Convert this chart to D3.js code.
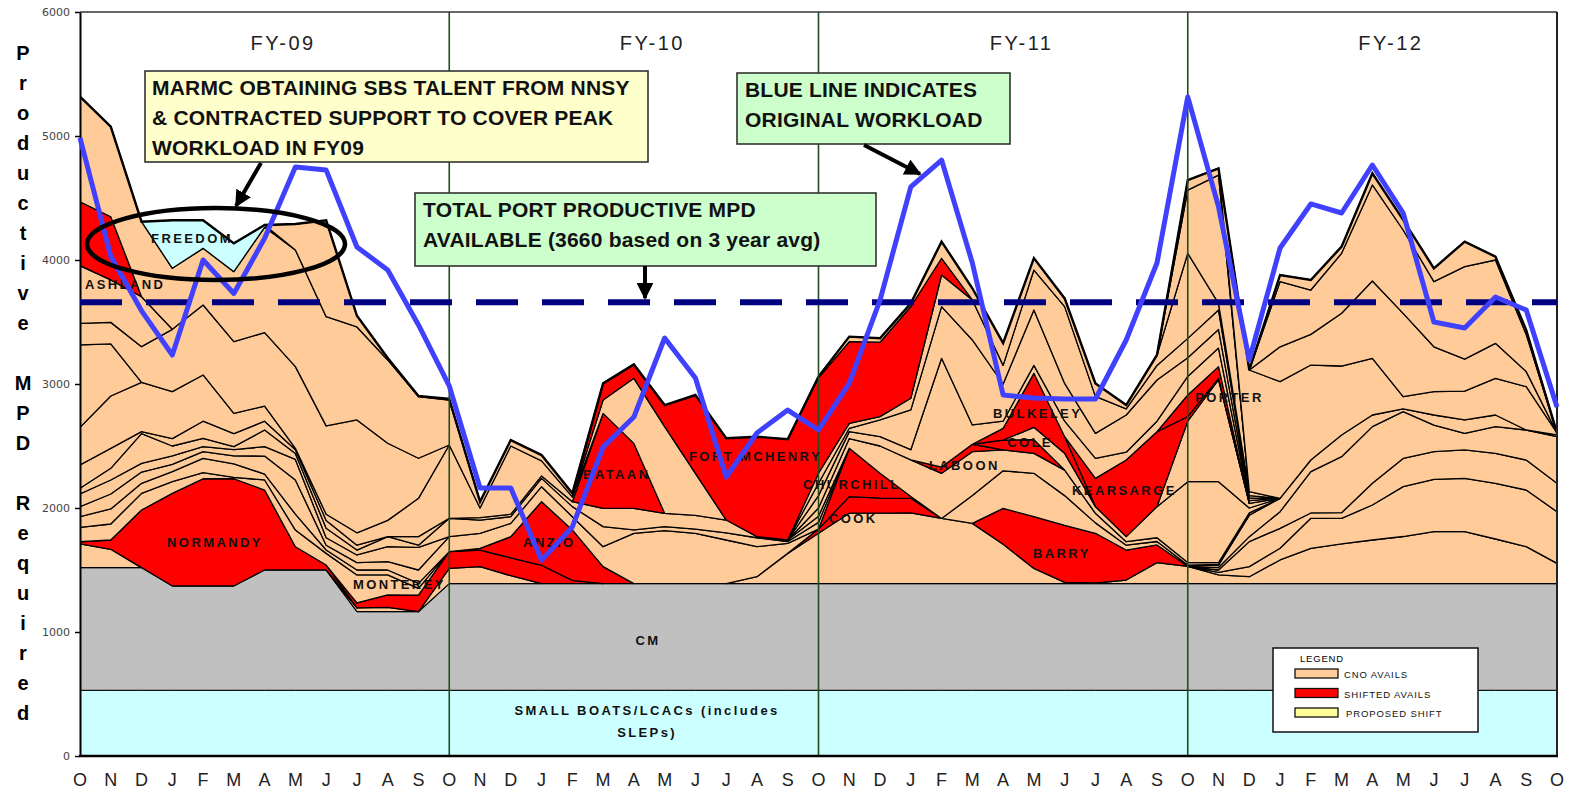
<!DOCTYPE html>
<html>
<head>
<meta charset="utf-8">
<script src="https://cdn.jsdelivr.net/npm/d3@7"></script>
<style>
  html, body { margin: 0; padding: 0; background: #fff; }
  svg { display: block; }
</style>
</head>
<body>
<div id="chart"></div>
<script>
// months on the x axis, Oct 08 .. Oct 12
const months = ["O","N","D","J","F","M","A","M","J","J","A","S",
                "O","N","D","J","F","M","A","M","J","J","A","S",
                "O","N","D","J","F","M","A","M","J","J","A","S",
                "O","N","D","J","F","M","A","M","J","J","A","S","O"];
const fiscalYears = ["FY-09","FY-10","FY-11","FY-12"];
const yTicks = [0,1000,2000,3000,4000,5000,6000];
const portAvailable = 3660;

// blue line: original workload
const originalWorkload = [4984,4030,3590,3234,4000,3730,4175,4750,4725,4105,3919,3476,2985,
                          2161,2161,1580,1847,2492,2734,3371,3048,2250,2605,2790,2629,
                          3008,3677,4589,4806,3976,2911,2887,2879,2879,3355,3976,5315,
                          4430,3194,4097,4452,4379,4766,4379,3500,3452,3702,3597,2815];

// base layers
const smallBoats = [530,530,530,530,530,530,530,530,530,530,530,530,530,530,530,530,530,
                    530,530,530,530,530,530,530,530,530,530,530,530,530,530,530,530,530,
                    530,530,530,530,530,530,530,530,530,530,530,530,530,530,530];
const cm = [989,989,989,841,841,841,970,970,970,634,634,634,
            860,860,860,860,860,860,860,860,860,860,860,860,860,860,860,860,860,860,
            860,860,860,860,860,860,860,860,860,860,860,860,860,860,860,860,860,860,860];

// availabilities (MPD per month), each starts at the month given in the layer table
const p09a = [191,148,0];
const p0 = [0,123,137,64,0];
const p09c = [0,30,35,0];
const normandy = [18,75,465,747,865,865,645,188,40,0];
const monterey = [0,40,100,134,135,134,143,148,27,0];
const anzio = [0,14,172,513,406,137,0];
const p1 = [0,56,244,406,568,568,570,526,486,317,123,10,5,29,170,140,70,56,191,285,320,352,380,419,419,360,298,164];
const barry = [0,290,417,460,401,242,142,0];
const cook = [0,34,134,122,118,0];
const churchill = [0,390,200,14,0];
const g1 = [0,20,81,94,242,207,282,402,422,430,449,457,416];
const g2 = [0,20,202,161,43,45,175,228,223,229,242,242,229];
const g3 = [0,20,40,134,333,452,457,377,215,134,215,242,376];
const g4 = [0,20,174,108,94,175,94,23,81,108,94,0,15];
const l1 = [116,129,134,94,49,11,81,134,94,226,161,54,0];
const l2 = [86,121,81,81,115,108,48,128,27,40,40,40,0];
const l3 = [81,121,91,59,54,65,145,276,39,60,67,108,121,121,107,121,107,161,406,427,406,352,242,81,0];
const l4 = [102,113,70,68,41,50,76,166,60,61,121,183,0];
const l5 = [46,94,240,80,67,25,134,48,76,40,81,17,148,107,54,67,81,162,27,33,34,58,72,15,54,0];
const l6 = [188,161,16,60,138,105,71,30,64,39,0,69,0,20,20,20,40,147,174,107,110,103,9,12,50,0];
const bataan = [0,766,524,0];
const l7 = [303,422,397,378,373,163,122,11,50,100,131,309,591,77,550,121,39,0];
const lb = [665,420,0];
const la = [174,174,288,503,564,579,592,659,712,910,622,323,0];
const wedge = [0,108,525,699,340,0];
const ld = [465,342,403,0];
const ashland = [516,510,0];
const k0 = [0,224,303,350,240,84,39,28,10,5,0];
const k1 = [0,66,78,220,296,364,354,168,161,206,77,28,30,20,15,17,0];
const laboon = [0,50,60,0];
const cole = [0,80,110,0];
const k2 = [0,100,135,54,41,251,652,652,40,0];
const bulkeley = [0,94,435,134,0];
const k2b = [0,488,824,38,0];
const kearsarge = [0,228,618,604,37,10,0];
const porter = [0,174,94,0];
const k3a = [0,100,56,76,82,877,156,58,64,125,161,63,85,150,150,22,0];
const k3b = [0,100,27,134,321,417,685,300,447,305,202,300,332,150,150,20,0];
const k3c = [0,80,40,27,94,255,323,150,322,619,298,50,118,157,157,20,0];
const fortMchenry = [0,134,112,174,631,659,806,812,770,659,600,740,135,0];
const p09top = [847,726,605,492,457,564,850,941,881,750,672,497,363,51,48,47,28,0];
const freedom = [0,387,226,228,18,0];
const p09env = [0,209,777,90,16,5,9,0];
const t11 = [0,10,40,32,26,134,94,180,96,66,105,30,84,686,53,32,0];
const t12 = [0,510,1035,0];
const t13 = [0,81,54,0];
const h1 = [0,981,941,766,556,457,98,188,233,296,349,15];
const h2 = [0,281,247,425,624,672,362,257,282,122,0];
const h3 = [0,526,358,484,774,672,526,747,672,300,0];
const h4 = [0,53,81,54,94,81,107,201,27,35,0];

// stacking order, bottom first: key, kind, start month, values
const layers = [
  ["smallBoats","boats",0,smallBoats], ["cm","cm",0,cm],
  ["p09a","cno",0,p09a], ["p0","cno",11,p0], ["p09c","cno",8,p09c],
  ["normandy","shifted",0,normandy], ["monterey","shifted",8,monterey], ["anzio","shifted",12,anzio],
  ["p1","cno",21,p1], ["barry","shifted",29,barry], ["cook","shifted",23,cook], ["churchill","shifted",24,churchill],
  ["g1","cno",36,g1], ["g2","cno",36,g2], ["g3","cno",36,g3], ["g4","cno",36,g4],
  ["l1","cno",0,l1], ["l2","cno",0,l2], ["l3","cno",0,l3], ["l4","cno",0,l4], ["l5","cno",0,l5], ["l6","cno",0,l6],
  ["bataan","shifted",16,bataan], ["l7","cno",0,l7], ["lb","cno",0,lb], ["la","cno",0,la],
  ["wedge","cno",16,wedge], ["ld","cno",0,ld], ["ashland","shifted",0,ashland],
  ["k0","cno",28,k0], ["k1","cno",23,k1], ["laboon","shifted",27,laboon], ["cole","shifted",29,cole],
  ["k2","cno",30,k2], ["bulkeley","shifted",29,bulkeley], ["k2b","cno",35,k2b],
  ["kearsarge","shifted",32,kearsarge], ["porter","shifted",35,porter],
  ["k3a","cno",23,k3a], ["k3b","cno",23,k3b], ["k3c","cno",23,k3c],
  ["fortMchenry","shifted",16,fortMchenry], ["p09top","cno",0,p09top], ["freedom","freedom",2,freedom],
  ["p09env","cno",6,p09env], ["t11","cno",23,t11], ["t12","cno",35,t12], ["t13","cno",35,t13],
  ["h1","cno",37,h1], ["h2","cno",38,h2], ["h3","cno",38,h3], ["h4","cno",38,h4]
];

// ship labels: text, month position, MPD (baseline)
const shipLabels = [
  ["FREEDOM",2.31,4137],["ASHLAND",0.16,3766],["NORMANDY",2.83,1685],["MONTEREY",8.87,1347],
  ["ANZIO",14.4,1685],["BATAAN",16.35,2234],["FORT MCHENRY",19.79,2379],["CHURCHILL",23.5,2153],
  ["COOK",24.34,1879],["LABOON",27.59,2306],["BULKELEY",29.67,2726],["COLE",30.13,2492],
  ["KEARSARGE",32.24,2105],["BARRY",30.97,1597],["PORTER",36.24,2855]
];

const colors = {boats:"#CCFFFF", cm:"#C0C0C0", cno:"#FFCC99", shifted:"#FF0000", freedom:"#CCFFFF"};

const W = 1576, H = 792;
const svg = d3.select("#chart").append("svg").attr("width", W).attr("height", H)
  .style("font-family", "'Liberation Sans', Arial, sans-serif");

const x = d3.scaleLinear().domain([0, months.length - 1]).range([80, 1557]);
const y = d3.scaleLinear().domain([0, 6000]).range([756, 12]);

// build the table and stack it
const table = months.map((m, i) => {
  const row = {i: i};
  layers.forEach(([key, kind, start, vals]) => {
    const j = i - start;
    row[key] = (j >= 0 && j < vals.length) ? vals[j] : 0;
  });
  return row;
});
const stacked = d3.stack().keys(layers.map(d => d[0]))(table);

const defs = svg.append("defs");
defs.append("clipPath").attr("id", "plotclip")
  .append("rect").attr("x", 80).attr("y", 12).attr("width", 1477).attr("height", 744);

const area = d3.area()
  .x(d => x(d.data.i))
  .y0(d => y(d[0]))
  .y1(d => y(d[1]));

const plot = svg.append("g").attr("clip-path", "url(#plotclip)");
stacked.forEach((s, k) => {
  const [key, kind, start, vals] = layers[k];
  const pts = s.slice(start, start + vals.length);
  plot.append("path")
    .attr("d", area(pts))
    .attr("fill", colors[kind])
    .attr("stroke", "#000")
    .attr("stroke-width", kind === "boats" || kind === "cm" ? 1 : 1.3)
    .attr("stroke-linejoin", "round");
});

// outer envelope drawn heavier
const envelope = stacked[stacked.length - 1];
plot.append("path")
  .attr("d", d3.line().x(d => x(d.data.i)).y(d => y(d[1]))(envelope))
  .attr("fill", "none").attr("stroke", "#000").attr("stroke-width", 2.4);

// fiscal year dividers
[12, 24, 36].forEach(m => {
  svg.append("line").attr("x1", x(m)).attr("x2", x(m)).attr("y1", 12).attr("y2", 756)
    .attr("stroke", "#1f4d1f").attr("stroke-width", 1.6);
});

// frame
svg.append("line").attr("x1", 80).attr("x2", 1557).attr("y1", 12).attr("y2", 12)
  .attr("stroke", "#333").attr("stroke-width", 1.5);
svg.append("line").attr("x1", 1557).attr("x2", 1557).attr("y1", 12).attr("y2", 756)
  .attr("stroke", "#222").attr("stroke-width", 2);

// axes
const yAxis = svg.append("g").attr("transform", "translate(80,0)")
  .call(d3.axisLeft(y).tickValues(yTicks).tickFormat(d3.format("d"))
    .tickSize(5).tickPadding(5).tickSizeOuter(0));
yAxis.select(".domain").attr("stroke", "#000").attr("stroke-width", 2);
yAxis.selectAll(".tick line").attr("stroke", "#000").attr("stroke-width", 1.5);
yAxis.selectAll("text").attr("font-family", "'DejaVu Sans', Verdana, sans-serif")
  .attr("font-size", 11).attr("fill", "#444");

svg.append("line").attr("x1", 79).attr("x2", 1558).attr("y1", 756).attr("y2", 756)
  .attr("stroke", "#000").attr("stroke-width", 2.5);

svg.append("g").selectAll("text").data(months).join("text")
  .attr("x", (d, i) => x(i)).attr("y", 786)
  .attr("text-anchor", "middle").attr("font-size", 18).attr("fill", "#222")
  .text(d => d);

// y title, one letter per line
const titleChars = "Productive MPD Required".split("");
svg.append("g").selectAll("text").data(titleChars).join("text")
  .attr("x", 23).attr("y", (d, i) => 60 + i * 30)
  .attr("text-anchor", "middle").attr("font-size", 20).attr("font-weight", "bold").attr("fill", "#000")
  .text(d => d);

// fiscal year titles
svg.append("g").selectAll("text").data(fiscalYears).join("text")
  .attr("x", (d, i) => x(i * 12 + 6.6)).attr("y", 50)
  .attr("text-anchor", "middle").attr("font-size", 20).attr("letter-spacing", "2.5px").attr("fill", "#222")
  .text(d => d);

// ship labels
svg.append("g").selectAll("text").data(shipLabels).join("text")
  .attr("x", d => x(d[1])).attr("y", d => y(d[2]))
  .attr("font-size", 13).attr("font-weight", "bold").attr("letter-spacing", "2.4px").attr("fill", "#111")
  .text(d => d[0]);

svg.append("text").attr("x", x(18.46)).attr("y", y(895)).attr("text-anchor", "middle")
  .attr("font-size", 13).attr("font-weight", "bold").attr("letter-spacing", "2.4px").attr("fill", "#111").text("CM");
svg.append("text").attr("x", x(18.43)).attr("y", y(331)).attr("text-anchor", "middle")
  .attr("font-size", 13).attr("font-weight", "bold").attr("letter-spacing", "2.4px").attr("fill", "#111")
  .text("SMALL BOATS/LCACs (includes");
svg.append("text").attr("x", x(18.43)).attr("y", y(153)).attr("text-anchor", "middle")
  .attr("font-size", 13).attr("font-weight", "bold").attr("letter-spacing", "2.4px").attr("fill", "#111")
  .text("SLEPs)");

// available line
svg.append("line").attr("x1", 80).attr("x2", 1557).attr("y1", y(portAvailable)).attr("y2", y(portAvailable))
  .attr("stroke", "#000080").attr("stroke-width", 6).attr("stroke-dasharray", "42,24");

// original workload
svg.append("path")
  .attr("d", d3.line().x((d, i) => x(i)).y(d => y(d))(originalWorkload))
  .attr("fill", "none").attr("stroke", "#4040ff").attr("stroke-width", 5).attr("stroke-linejoin", "round");

// arrow marker
defs.append("marker").attr("id", "head")
  .attr("viewBox", "0 0 10 10").attr("refX", 9).attr("refY", 5)
  .attr("markerWidth", 4.2).attr("markerHeight", 4.2).attr("orient", "auto")
  .append("path").attr("d", "M0,0 L10,5 L0,10 z").attr("fill", "#000");

// callout boxes
function callout(bx, by, bw, bh, fill, lines, tx, ty0) {
  svg.append("rect").attr("x", bx).attr("y", by).attr("width", bw).attr("height", bh)
    .attr("fill", fill).attr("stroke", "#333").attr("stroke-width", 1.6);
  lines.forEach((t, i) => {
    svg.append("text").attr("x", tx).attr("y", ty0 + i * 30)
      .attr("font-size", 21).attr("font-weight", "bold").attr("letter-spacing", "0.2px")
      .attr("fill", "#111").text(t);
  });
}
callout(145, 71, 503, 91, "#FFFFCC",
  ["MARMC OBTAINING SBS TALENT FROM NNSY", "& CONTRACTED SUPPORT TO COVER PEAK", "WORKLOAD IN FY09"], 152, 95);
callout(415, 193, 461, 73, "#CCFFCC",
  ["TOTAL PORT PRODUCTIVE MPD", "AVAILABLE (3660 based on 3 year avg)"], 423, 217);
callout(737, 73, 273, 71, "#CCFFCC",
  ["BLUE LINE INDICATES", "ORIGINAL WORKLOAD"], 745, 97);

// arrows
svg.append("line").attr("x1", 261).attr("y1", 163).attr("x2", 236).attr("y2", 206)
  .attr("stroke", "#000").attr("stroke-width", 4).attr("marker-end", "url(#head)");
svg.append("line").attr("x1", 645).attr("y1", 266).attr("x2", 645).attr("y2", y(portAvailable) - 4)
  .attr("stroke", "#000").attr("stroke-width", 4).attr("marker-end", "url(#head)");
svg.append("line").attr("x1", 864).attr("y1", 145).attr("x2", 920).attr("y2", 174)
  .attr("stroke", "#000").attr("stroke-width", 4).attr("marker-end", "url(#head)");

// ellipse round FREEDOM
svg.append("ellipse").attr("cx", 216).attr("cy", 244).attr("rx", 129).attr("ry", 36)
  .attr("fill", "none").attr("stroke", "#000").attr("stroke-width", 4.5);

// legend
const lg = svg.append("g");
lg.append("rect").attr("x", 1273).attr("y", 648).attr("width", 205).attr("height", 84)
  .attr("fill", "#fff").attr("stroke", "#111").attr("stroke-width", 1.5);
lg.append("text").attr("x", 1300).attr("y", 662).attr("font-size", 9.5).attr("letter-spacing", "0.8px").text("LEGEND");
[["CNO AVAILS", colors.cno], ["SHIFTED AVAILS", colors.shifted], ["PROPOSED SHIFT", "#FFFF99"]].forEach((d, i) => {
  lg.append("rect").attr("x", 1295).attr("y", 669 + i * 19.5).attr("width", 43).attr("height", 9)
    .attr("fill", d[1]).attr("stroke", "#111").attr("stroke-width", 1.3);
  lg.append("text").attr("x", 1344 + (i === 2 ? 2 : 0)).attr("y", 678 + i * 19.5)
    .attr("font-size", 9.5).attr("letter-spacing", "0.9px").attr("fill", "#111").text(d[0]);
});
</script>
</body>
</html>
